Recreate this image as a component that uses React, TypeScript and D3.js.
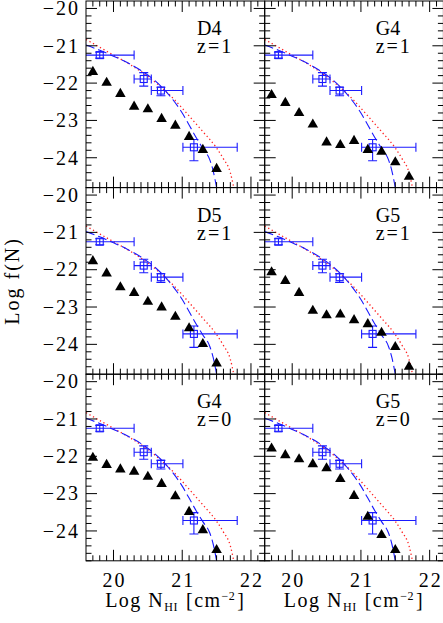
import * as d3 from "d3";

// simulated f(N) points, one array per panel (log N_HI steps of 0.2 from 19.7)
const triX = [19.7, 19.9, 20.1, 20.3, 20.5, 20.7, 20.9, 21.1, 21.3, 21.5, 21.7];
const d4z1 = [-21.7, -21.99, -22.29, -22.63, -22.7, -22.96, -23.14, -23.44, -23.79, -24.3];
const g4z1 = [-22.32, -22.53, -22.8, -23.11, -23.59, -23.66, -23.55, -23.79, -23.84, -24.12, -24.51];
const d5z1 = [-21.77, -22.1, -22.47, -22.62, -22.86, -23.01, -23.26, -23.57, -23.99, -24.51];
const g5z1 = [-22.07, -22.3, -22.62, -23.1, -23.22, -23.2, -23.35, -23.46, -23.69, -24.07, -24.6];
const g4z0 = [-22.04, -22.23, -22.35, -22.41, -22.55, -22.74, -23.07, -23.49, -23.98, -24.51];
const g5z0 = [-21.79, -21.97, -22.08, -22.21, -22.32, -22.61, -23.06, -23.62, -24.11, -24.51];

const panelNames = ["D4", "G4", "D5", "G5", "G4", "G5"];
const panelZ = ["1", "1", "1", "1", "0", "0"];
const panelTri = [d4z1, g4z1, d5z1, g5z1, g4z0, g5z0];

// observed points with error bars
const obsX = [19.8, 20.44, 20.69, 21.17];
const obsY = [-21.25, -21.89, -22.2, -23.72];
const obsXLo = [19.3, 20.3, 20.55, 21.01];
const obsXHi = [20.3, 20.55, 21.01, 21.8];
const obsYLo = [-21.33, -22.08, -22.34, -24.08];
const obsYHi = [-21.17, -21.72, -22.11, -23.51];

// fitted curves
const dashX = [19.6, 19.8, 20.0, 20.2, 20.4, 20.6, 20.8, 21.0, 21.1, 21.2, 21.3, 21.4, 21.45, 21.5];
const dashY = [-20.98, -21.12, -21.28, -21.45, -21.66, -21.93, -22.3, -22.8, -23.12, -23.45, -23.75, -24.05, -24.35, -24.8];
const dotX = [19.6, 19.8, 20.0, 20.3, 20.5, 20.7, 20.9, 21.1, 21.3, 21.5, 21.6, 21.7, 21.75];
const dotY = [-20.83, -21.04, -21.25, -21.57, -21.82, -22.12, -22.47, -22.88, -23.3, -23.74, -24.03, -24.4, -24.8];

const xMajor = [20, 21, 22];
const yMajor = [-20, -21, -22, -23, -24];

const W = 443;
const H = 623;
const PW = 178.7;
const PH = 186.6;
const X0 = 86;
const Y0 = 1;
const BLUE = "#1a1aff";
const FONT = "'Liberation Serif', serif";
const FS = 20;
const minus = (v: number) => (v < 0 ? "\u2212" + Math.abs(v) : String(v));

function Panel({ idx }: { idx: number }) {
  const col = idx % 2;
  const row = Math.floor(idx / 2);
  const x = d3.scaleLinear().domain([19.6, 22.2]).range([0, PW]);
  const y = d3.scaleLinear().domain([-24.8, -19.8]).range([PH, 0]);

  const line = d3
    .line<[number, number]>()
    .x((d) => x(d[0]))
    .y((d) => y(d[1]))
    .curve(d3.curveMonotoneX);

  const dashPts = dashX.map((v, i) => [v, dashY[i]] as [number, number]);
  const dotPts = dotX.map((v, i) => [v, dotY[i]] as [number, number]);
  const tri = panelTri[idx];
  const triPath = d3.symbol(d3.symbolTriangle, 48)() || "";

  const xMinor = d3.range(197, 222).map((v) => v / 10).filter((v) => Math.abs(v - Math.round(v)) > 0.01);
  const yMinor = d3.range(-124, -100, 1).map((v) => v / 5).filter((v) => Math.abs(v - Math.round(v)) > 0.01);
  const clipId = `clip-${idx}`;
  const cap = 4.5;

  return (
    <g transform={`translate(${X0 + col * PW},${Y0 + row * PH})`}>
      <defs>
        <clipPath id={clipId}>
          <rect x={0} y={0} width={PW} height={PH} />
        </clipPath>
      </defs>
      <g clipPath={`url(#${clipId})`}>
        <path d={line(dotPts) || ""} fill="none" stroke="#ff2020" strokeWidth={1.3} strokeDasharray="1.3,2.7" />
        <path d={line(dashPts) || ""} fill="none" stroke={BLUE} strokeWidth={1.1} strokeDasharray="9,4" />
        {obsX.map((v, i) => (
          <g key={i} stroke={BLUE} strokeWidth={1.1} fill="none">
            <line x1={x(obsXLo[i])} x2={x(obsXHi[i])} y1={y(obsY[i])} y2={y(obsY[i])} />
            <line x1={x(obsXLo[i])} x2={x(obsXLo[i])} y1={y(obsY[i]) - cap} y2={y(obsY[i]) + cap} />
            <line x1={x(obsXHi[i])} x2={x(obsXHi[i])} y1={y(obsY[i]) - cap} y2={y(obsY[i]) + cap} />
            <line x1={x(v)} x2={x(v)} y1={y(obsYLo[i])} y2={y(obsYHi[i])} />
            <line x1={x(v) - cap} x2={x(v) + cap} y1={y(obsYLo[i])} y2={y(obsYLo[i])} />
            <line x1={x(v) - cap} x2={x(v) + cap} y1={y(obsYHi[i])} y2={y(obsYHi[i])} />
            <rect x={x(v) - 3.5} y={y(obsY[i]) - 3.5} width={7} height={7} />
          </g>
        ))}
      </g>
      {tri.map((v, i) => (
        <path key={i} d={triPath} transform={`translate(${x(triX[i])},${y(v)})`} fill="#000" />
      ))}

      {/* frame and inward ticks */}
      <rect x={0} y={0} width={PW} height={PH} fill="none" stroke="#000" strokeWidth={1} />
      <g stroke="#000" strokeWidth={1}>
        {xMajor.map((v) => (
          <g key={`xM${v}`}>
            <line x1={x(v)} x2={x(v)} y1={PH} y2={PH - 11} />
            <line x1={x(v)} x2={x(v)} y1={0} y2={11} />
          </g>
        ))}
        {xMinor.map((v) => (
          <g key={`xm${v}`}>
            <line x1={x(v)} x2={x(v)} y1={PH} y2={PH - 5.5} />
            <line x1={x(v)} x2={x(v)} y1={0} y2={5.5} />
          </g>
        ))}
        {yMajor.map((v) => (
          <g key={`yM${v}`}>
            <line x1={0} x2={11} y1={y(v)} y2={y(v)} />
            <line x1={PW} x2={PW - 11} y1={y(v)} y2={y(v)} />
          </g>
        ))}
        {yMinor.map((v) => (
          <g key={`ym${v}`}>
            <line x1={0} x2={5.5} y1={y(v)} y2={y(v)} />
            <line x1={PW} x2={PW - 5.5} y1={y(v)} y2={y(v)} />
          </g>
        ))}
      </g>

      <text x={111} y={34} fontSize={FS} fontFamily={FONT}>
        {panelNames[idx]}
      </text>
      <text x={111} y={52} fontSize={FS} fontFamily={FONT} letterSpacing={2}>
        {`z=${panelZ[idx]}`}
      </text>

      {col === 0 &&
        yMajor.map((v) => (
          <text key={v} x={-6} y={y(v)} dy="0.34em" textAnchor="end" fontSize={FS} fontFamily={FONT} letterSpacing={2}>
            {minus(v)}
          </text>
        ))}
      {row === 2 && (
        <g fontSize={FS} fontFamily={FONT}>
          {xMajor.map((v) => (
            <text key={v} x={x(v) + 1} y={PH + 26.5} textAnchor="middle" letterSpacing={2}>
              {v}
            </text>
          ))}
          <text x={PW / 2} y={PH + 46.5} textAnchor="middle" letterSpacing={1.5}>
            Log N
            <tspan fontSize={12} dy={4} letterSpacing={0.5}>HI</tspan>
            <tspan dx={8} dy={-4}>[cm</tspan>
            <tspan fontSize={12} dy={-7} letterSpacing={0.5}>{"\u22122"}</tspan>
            <tspan dy={7} dx={2}>]</tspan>
          </text>
        </g>
      )}
    </g>
  );
}

export default function App() {
  return (
    <div style={{ position: "absolute", left: 0, top: 0 }}>
      <svg width={W} height={H} style={{ display: "block", background: "#fff" }}>
        {panelNames.map((_, i) => (
          <Panel key={i} idx={i} />
        ))}
        <text
          transform={`translate(19,${Y0 + 1.5 * PH}) rotate(-90)`}
          textAnchor="middle"
          fontSize={FS}
          fontFamily={FONT}
          letterSpacing={2}
        >
          Log f(N)
        </text>
      </svg>
    </div>
  );
}
